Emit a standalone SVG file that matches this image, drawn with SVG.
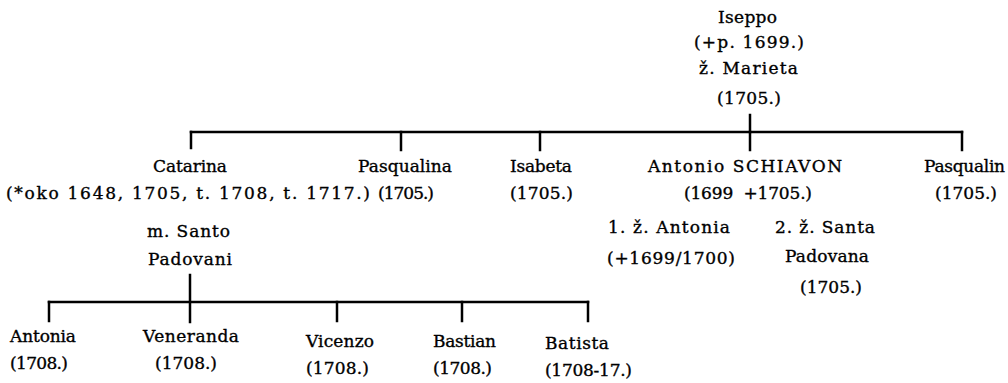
<svg xmlns="http://www.w3.org/2000/svg" width="1008" height="383" viewBox="0 0 1008 383">
<style>
text{font-family:"DejaVu Serif","Liberation Serif",serif;font-size:17px;fill:#000;stroke:#000;stroke-width:0.35}
.pre{white-space:pre}
.c line{stroke:#000;stroke-width:2.5;stroke-linecap:square}
</style>
<rect width="1008" height="383" fill="#fff"/>
<g class="c" id="connectors">
<line x1="750" y1="115" x2="750" y2="132"/>
<line x1="191" y1="132" x2="962" y2="132"/>
<line x1="191" y1="132" x2="191" y2="148"/>
<line x1="401" y1="132" x2="401" y2="150"/>
<line x1="540" y1="132" x2="540" y2="150"/>
<line x1="750" y1="132" x2="750" y2="150"/>
<line x1="962" y1="132" x2="962" y2="150"/>
<line x1="190" y1="275" x2="190" y2="322"/>
<line x1="49" y1="302" x2="588" y2="302"/>
<line x1="49" y1="302" x2="49" y2="321"/>
<line x1="337" y1="302" x2="337" y2="321"/>
<line x1="462" y1="302" x2="462" y2="321"/>
<line x1="588" y1="302" x2="588" y2="321"/>
</g>
<g id="iseppo">
<text x="718" y="23" textLength="59" lengthAdjust="spacing">Iseppo</text>
<text x="694" y="48" textLength="110" lengthAdjust="spacing">(+p. 1699.)</text>
<text x="699" y="74" textLength="99" lengthAdjust="spacing">ž. Marieta</text>
<text x="717" y="104" textLength="64" lengthAdjust="spacing">(1705.)</text>
</g>
<g id="catarina">
<text x="153" y="172" textLength="74" lengthAdjust="spacing">Catarina</text>
<text x="6" y="199" textLength="364" lengthAdjust="spacing">(*oko 1648, 1705, t. 1708, t. 1717.)</text>
<text x="147" y="237" textLength="83" lengthAdjust="spacing">m. Santo</text>
<text x="148" y="265" textLength="84" lengthAdjust="spacing">Padovani</text>
</g>
<g id="pasqualina">
<text x="358" y="172" textLength="94" lengthAdjust="spacing">Pasqualina</text>
<text x="378" y="199" textLength="56" lengthAdjust="spacing">(1705.)</text>
</g>
<g id="isabeta">
<text x="510" y="172" textLength="62" lengthAdjust="spacing">Isabeta</text>
<text x="510" y="199" textLength="63" lengthAdjust="spacing">(1705.)</text>
</g>
<g id="antonio">
<text x="648" y="172" textLength="194" lengthAdjust="spacing">Antonio SCHIAVON</text>
<text class="pre" x="684" y="199" textLength="128" lengthAdjust="spacing">(1699  +1705.)</text>
<text x="608" y="233" textLength="122" lengthAdjust="spacing">1. ž. Antonia</text>
<text x="607" y="264" textLength="128" lengthAdjust="spacing">(+1699/1700)</text>
<text x="775" y="233" textLength="100" lengthAdjust="spacing">2. ž. Santa</text>
<text x="785" y="262" textLength="84" lengthAdjust="spacing">Padovana</text>
<text x="800" y="293" textLength="62" lengthAdjust="spacing">(1705.)</text>
</g>
<g id="pasqualin">
<text x="924" y="172" textLength="81" lengthAdjust="spacing">Pasqualin</text>
<text x="935" y="199" textLength="62" lengthAdjust="spacing">(1705.)</text>
</g>
<g id="antonia">
<text x="10" y="342" textLength="66" lengthAdjust="spacing">Antonia</text>
<text x="10" y="369" textLength="58" lengthAdjust="spacing">(1708.)</text>
</g>
<g id="veneranda">
<text x="143" y="342" textLength="96" lengthAdjust="spacing">Veneranda</text>
<text x="155" y="369" textLength="62" lengthAdjust="spacing">(1708.)</text>
</g>
<g id="vicenzo">
<text x="306" y="347" textLength="68" lengthAdjust="spacing">Vicenzo</text>
<text x="306" y="374" textLength="63" lengthAdjust="spacing">(1708.)</text>
</g>
<g id="bastian">
<text x="433" y="347" textLength="63" lengthAdjust="spacing">Bastian</text>
<text x="433" y="374" textLength="59" lengthAdjust="spacing">(1708.)</text>
</g>
<g id="batista">
<text x="545" y="349" textLength="64" lengthAdjust="spacing">Batista</text>
<text x="545" y="376" textLength="87" lengthAdjust="spacing">(1708-17.)</text>
</g>
</svg>
